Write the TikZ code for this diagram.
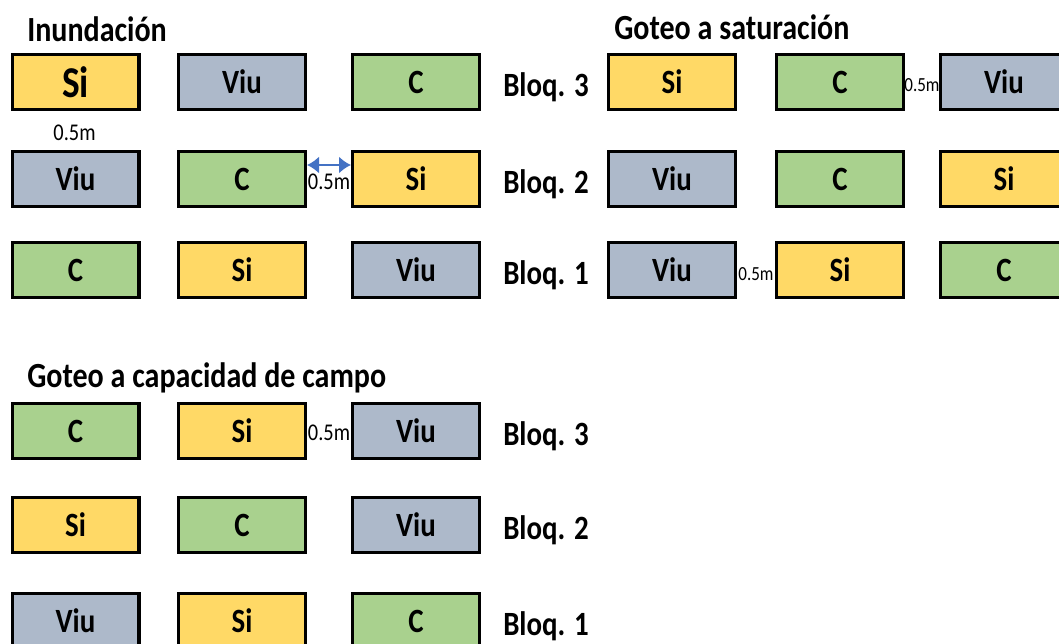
\documentclass[tikz,border=0pt]{standalone}
\usepackage{fontspec}
\setmainfont[FakeStretch=0.85]{Carlito}
\usetikzlibrary{arrows.meta}
\tikzset{>=Latex}
\definecolor{siyellow}{RGB}{255,217,102}
\definecolor{viugray}{RGB}{173,185,202}
\definecolor{cgreen}{RGB}{169,209,142}
\definecolor{arrowblue}{RGB}{68,114,196}
\tikzset{
  parcela/.style={draw=black,line width=2.6pt,minimum width=94.9pt,minimum height=41.5pt,inner sep=0pt,font=\fontsize{25.5}{30}\selectfont\bfseries},
  sipar/.style={parcela,fill=siyellow},
  viupar/.style={parcela,fill=viugray},
  cpar/.style={parcela,fill=cgreen},
  bloque/.style={anchor=base west,inner sep=0pt,font=\fontsize{25.5}{30}\selectfont\bfseries},
  titulo/.style={anchor=base west,inner sep=0pt,font=\fontsize{26.5}{31}\selectfont\bfseries},
  dist/.style={inner sep=0pt,font=\fontsize{18}{21}\selectfont},
  distb/.style={inner sep=0pt,font=\fontsize{15}{17}\selectfont},
  flecha/.style={<->,arrowblue,line width=1.8pt,>={Latex[length=9pt,width=13pt]}}
}

\begin{document}
\begin{tikzpicture}[x=0.75pt,y=-0.75pt]
\useasboundingbox (0,0) rectangle (1059,643);
% titulos
\node[titulo] (tinund) at (27,41) {Inundación};
\node[titulo] (tsatur) at (614,39) {Goteo a saturación};
\node[titulo] (tcapac) at (27,387) {Goteo a capacidad de campo};
% distancias (debajo de las parcelas)
\node[dist] (d1) at (74.5,133) {0.5m};
\node[dist] (d2) at (329,182) {0.5m};
\node[distb] (d3) at (922,85) {0.5m};
\node[distb] (d4) at (756,274) {0.5m};
\node[dist] (d5) at (329,433) {0.5m};
% Inundacion
\node[sipar,font=\fontsize{33}{38}\selectfont\bfseries] (i3a) at (75.5,82) {Si};
\node[viupar] (i3b) at (242,82) {Viu};
\node[cpar] (i3c) at (416,82) {C};
\node[viupar] (i2a) at (75.5,179) {Viu};
\node[cpar] (i2b) at (242,179) {C};
\node[sipar] (i2c) at (416,179) {Si};
\node[cpar] (i1a) at (75.5,270) {C};
\node[sipar] (i1b) at (242,270) {Si};
\node[viupar] (i1c) at (416,270) {Viu};
\node[bloque] (b3) at (503,96) {Bloq. 3};
\node[bloque] (b2) at (503,193) {Bloq. 2};
\node[bloque] (b1) at (503,284) {Bloq. 1};
% Goteo a saturacion
\node[sipar] (s3a) at (672,82) {Si};
\node[cpar] (s3b) at (840,82) {C};
\node[viupar] (s3c) at (1004,82) {Viu};
\node[viupar] (s2a) at (672,179) {Viu};
\node[cpar] (s2b) at (840,179) {C};
\node[sipar] (s2c) at (1004,179) {Si};
\node[viupar] (s1a) at (672,270) {Viu};
\node[sipar] (s1b) at (840,270) {Si};
\node[cpar] (s1c) at (1004,270) {C};
% Goteo a capacidad de campo
\node[cpar] (k3a) at (75.5,431) {C};
\node[sipar] (k3b) at (242,431) {Si};
\node[viupar] (k3c) at (416,431) {Viu};
\node[sipar] (k2a) at (75.5,525) {Si};
\node[cpar] (k2b) at (242,525) {C};
\node[viupar] (k2c) at (416,525) {Viu};
\node[viupar] (k1a) at (75.5,621) {Viu};
\node[sipar] (k1b) at (242,621) {Si};
\node[cpar] (k1c) at (416,621) {C};
\node[bloque] (kb3) at (503,445) {Bloq. 3};
\node[bloque] (kb2) at (503,539) {Bloq. 2};
\node[bloque] (kb1) at (503,635) {Bloq. 1};
% flecha
\coordinate (fa) at ([yshift=10.5pt]i2b.east);
\coordinate (fb) at ([yshift=10.5pt]i2c.west);
\draw[flecha] (fa) -- (fb);
\end{tikzpicture}
\end{document}
